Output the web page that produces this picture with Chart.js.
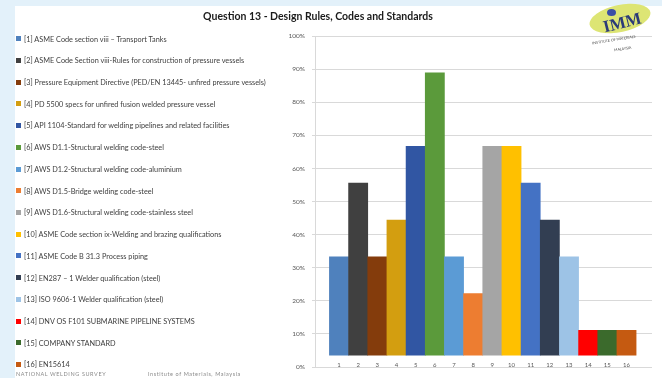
<!DOCTYPE html>
<html><head><meta charset="utf-8">
<script src="https://cdn.jsdelivr.net/npm/chart.js@4.4.1/dist/chart.umd.min.js"></script>
<style>
html,body{margin:0;padding:0;width:662px;height:378px;overflow:hidden;background:#e3f1fa;}
#panel{position:absolute;left:15px;top:6px;width:647px;height:372px;background:#fff;}
#c{position:absolute;left:0;top:0;}
#title{position:absolute;left:118px;width:400px;top:10px;text-align:center;font-family:Lato,sans-serif;font-weight:bold;font-size:10.5px;color:#1a1a1a;}
#legend{position:absolute;left:0;top:0;font-family:Lato,"Open Sans",sans-serif;font-size:7.3px;color:#404040;}
.item{position:absolute;left:16px;white-space:nowrap;height:9px;line-height:9px;}
.item i{display:inline-block;width:5px;height:5px;margin-right:3px;vertical-align:middle;position:relative;top:-1px;}
.foot{position:absolute;top:371px;font-family:Lato,sans-serif;font-size:5.5px;letter-spacing:0.6px;color:#8a8a8a;white-space:nowrap;}
#logo{position:absolute;left:588px;top:2px;width:70px;height:55px;}
#ell{position:absolute;left:1px;top:3px;width:62px;height:27px;border-radius:50%;background:#dde574;transform:rotate(-12deg);}
#dot{position:absolute;left:19px;top:7px;width:9px;height:7px;border-radius:50%;background:#3b4ea6;}
#imm{position:absolute;left:15px;top:11px;font-family:"Liberation Serif",serif;font-weight:bold;font-size:17px;color:#2b3b78;transform:rotate(-14deg);}
#inst{position:absolute;left:4px;top:35px;font-family:Lato,sans-serif;font-size:3.6px;color:#444;transform:rotate(-9deg);white-space:nowrap;}
#mal{position:absolute;left:26px;top:44px;font-family:Lato,sans-serif;font-size:3.6px;color:#444;transform:rotate(-9deg);white-space:nowrap;}
</style></head>
<body>
<div id="panel"></div>
<canvas id="c" width="662" height="378"></canvas>
<div id="title"></div>
<div id="legend"></div>
<div class="foot" style="left:16px">NATIONAL WELDING SURVEY</div>
<div class="foot" style="left:148px">Institute of Materials, Malaysia</div>
<div id="logo"><div id="ell"></div><div id="dot"></div><div id="imm">IMM</div><div id="inst">INSTITUTE OF MATERIALS</div><div id="mal">MALAYSIA</div></div>
<script>
const chartTitle = 'Question 13 - Design Rules, Codes and Standards';
const categories = ['1','2','3','4','5','6','7','8','9','10','11','12','13','14','15','16'];
const percentValues = [33.3, 55.6, 33.3, 44.4, 66.7, 88.9, 33.3, 22.2, 66.7, 66.7, 55.6, 44.4, 33.3, 11.1, 11.1, 11.1];
const legendLabels = [
  '[1] ASME Code section viii \u2013 Transport Tanks',
  '[2] ASME Code Section viii-Rules for construction of pressure vessels',
  '[3] Pressure Equipment Directive (PED/EN 13445- unfired pressure vessels)',
  '[4] PD 5500 specs for unfired fusion welded pressure vessel',
  '[5] API 1104-Standard for welding pipelines and related facilities',
  '[6] AWS D1.1-Structural welding code-steel',
  '[7] AWS D1.2-Structural welding code-aluminium',
  '[8] AWS D1.5-Bridge welding code-steel',
  '[9] AWS D1.6-Structural welding code-stainless steel',
  '[10] ASME Code section ix-Welding and brazing qualifications',
  '[11] ASME Code B 31.3 Process piping',
  '[12] EN287 \u2013 1 Welder qualification (steel)',
  '[13] ISO 9606-1 Welder qualification (steel)',
  '[14] DNV OS F101 SUBMARINE PIPELINE SYSTEMS',
  '[15] COMPANY STANDARD',
  '[16] EN15614'
];
const barColors = ['#4f81bd','#404040','#843c0c','#d39e10','#3156a3','#5b9a3b','#5b9bd5','#ed7d31',
                   '#a5a5a5','#ffc000','#4472c4','#323e52','#9dc3e6','#ff0000','#3b6a2c','#c55a11'];
const yTicks = [0,10,20,30,40,50,60,70,80,90,100];

document.getElementById('title').textContent = chartTitle;

// HTML legend built from the arrays
const lg = document.getElementById('legend');
legendLabels.forEach((t,i)=>{
  const d = document.createElement('div');
  d.className='item';
  d.style.top = (39 + i*21.73 - 4.5) + 'px';
  const sw = document.createElement('i'); sw.style.background = barColors[i];
  d.appendChild(sw); d.appendChild(document.createTextNode(t));
  lg.appendChild(d);
});

const xLabelPlugin = {
  id:'xlabels',
  afterDatasetsDraw(chart){
    const {ctx, scales:{x,y}} = chart;
    ctx.save();
    ctx.font = '6px Lato'; ctx.fillStyle = '#595959';
    ctx.textAlign = 'center'; ctx.textBaseline = 'middle';
    categories.forEach((c,i)=>ctx.fillText(c, x.getPixelForValue(i+1), y.getPixelForValue(0)-2));
    ctx.restore();
  }
};

new Chart(document.getElementById('c'), {
  type:'bar',
  data:{
    datasets:[{
      data: categories.map((c,i)=>({x:i+1, y:percentValues[i]})),
      backgroundColor: barColors,
      borderWidth:0,
      barPercentage:1, categoryPercentage:1,
      base:3.6
    }]
  },
  options:{
    responsive:false, animation:false,
    layout:{padding:{left:0,right:10,top:36,bottom:8}},
    plugins:{ legend:{display:false}, tooltip:{enabled:false} },
    scales:{
      x:{type:'linear', display:false, offset:false, bounds:'data', min:-0.252, max:17.33,
         ticks:{stepSize:1, includeBounds:false}, grid:{display:false, offset:false}},
      y:{min:0, max:100,
         afterFit(s){ s.width = 315; },
         afterBuildTicks(s){ s.ticks = yTicks.map(v=>({value:v})); },
         ticks:{callback:v=>v+'%', color:'#595959', font:{family:'Lato', size:6.5}, padding:7},
         grid:{color:'#d9d9d9', lineWidth:1, tickLength:3},
         border:{color:'#d9d9d9'}}
    }
  },
  plugins:[xLabelPlugin]
});
</script>
</body></html>
